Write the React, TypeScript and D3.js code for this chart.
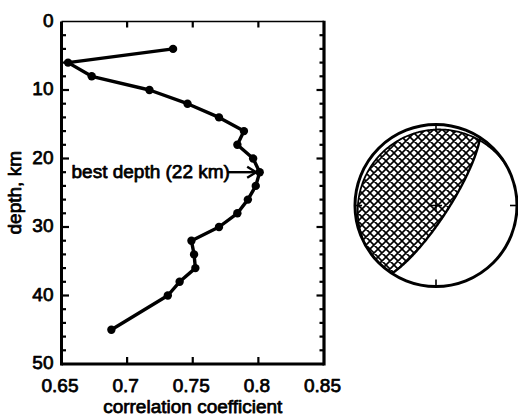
import React, { useEffect, useRef } from "react";
import * as d3 from "d3";

// correlation vs. trial source depth
const depths = [4, 6, 8, 10, 12, 14, 16, 18, 20, 22, 24, 26, 28, 30, 32, 34, 36, 38, 40, 45];
const correlations = [
  0.735, 0.655, 0.673, 0.717, 0.746, 0.77, 0.789, 0.784, 0.796, 0.801, 0.798, 0.792, 0.784, 0.77,
  0.749, 0.751, 0.752, 0.74, 0.731, 0.688,
];
const xTicks = [0.65, 0.7, 0.75, 0.8, 0.85];
const xTickLabels = ["0.65", "0.7", "0.75", "0.8", "0.85"];
const yTicks = [0, 10, 20, 30, 40, 50];
const bestDepth = 22;

// focal mechanism: strike, dip of the two nodal planes (degrees)
const planeA = { strike: 33, dip: 78 };
const planeB = { strike: 240, dip: 8 };

const W = 518;
const H = 415;
const font = "'Liberation Sans', Arial, Helvetica, sans-serif";

const App = () => {
  const ref = useRef<SVGSVGElement>(null);

  useEffect(() => {
    const svg = d3.select(ref.current);
    svg.selectAll("*").remove();

    const x = d3.scaleLinear().domain([0.65, 0.85]).range([61.5, 324]);
    const y = d3.scaleLinear().domain([0, 50]).range([21.5, 364]);
    const [x0, x1] = x.range();
    const [y0, y1] = y.range();

    const g = svg.append("g");

    // frame
    g.append("line").attr("x1", x0).attr("x2", x1).attr("y1", y0).attr("y2", y0)
      .attr("stroke", "#000").attr("stroke-width", 1.4);
    g.append("line").attr("x1", x0).attr("x2", x1).attr("y1", y1).attr("y2", y1)
      .attr("stroke", "#000").attr("stroke-width", 3);
    g.append("line").attr("x1", x0).attr("x2", x0).attr("y1", y0).attr("y2", y1 + 1.5)
      .attr("stroke", "#000").attr("stroke-width", 3);
    g.append("line").attr("x1", x1).attr("x2", x1).attr("y1", y0 - 0.7).attr("y2", y1 + 1.5)
      .attr("stroke", "#000").attr("stroke-width", 3.2);

    // x ticks (inside, top and bottom)
    xTicks.slice(1, -1).forEach((t) => {
      g.append("line").attr("x1", x(t)).attr("x2", x(t)).attr("y1", y1).attr("y2", y1 - 7)
        .attr("stroke", "#000").attr("stroke-width", 2.2);
      g.append("line").attr("x1", x(t)).attr("x2", x(t)).attr("y1", y0).attr("y2", y0 + 6)
        .attr("stroke", "#000").attr("stroke-width", 2.2);
    });

    // y ticks: major every 10, minor every 2
    d3.range(2, 50, 2).forEach((t) => {
      const len = t % 10 === 0 ? 7.5 : 4.5;
      g.append("line").attr("x1", x0).attr("x2", x0 + len).attr("y1", y(t)).attr("y2", y(t))
        .attr("stroke", "#000").attr("stroke-width", 2.2);
      g.append("line").attr("x1", x1).attr("x2", x1 - len).attr("y1", y(t)).attr("y2", y(t))
        .attr("stroke", "#000").attr("stroke-width", 2.2);
    });

    const txt = (sel: any) =>
      sel.attr("font-family", font).attr("font-size", 19).attr("fill", "#000")
        .attr("stroke", "#000").attr("stroke-width", 0.75).attr("stroke-linejoin", "round");

    xTicks.forEach((t, i) => {
      g.append("text").call(txt).attr("x", x(t) - 1.5).attr("y", 391.5)
        .attr("text-anchor", "middle").text(xTickLabels[i]);
    });
    yTicks.forEach((t) => {
      g.append("text").call(txt).attr("x", 53.5).attr("y", y(t) + 5)
        .attr("text-anchor", "end").text(String(t));
    });

    g.append("text").call(txt).attr("x", (x0 + x1) / 2).attr("y", 412.5)
      .attr("text-anchor", "middle").text("correlation coefficient");
    g.append("text").call(txt)
      .attr("transform", `translate(20.5, ${(y0 + y1) / 2}) rotate(-90)`)
      .attr("text-anchor", "middle").text("depth, km");

    // data
    const pts = depths.map((d, i) => [x(correlations[i]), y(d)] as [number, number]);
    g.append("path").attr("d", d3.line()(pts)).attr("fill", "none")
      .attr("stroke", "#000").attr("stroke-width", 3.4).attr("stroke-linejoin", "round");
    g.selectAll("circle.pt").data(pts).enter().append("circle").attr("class", "pt")
      .attr("cx", (p) => p[0]).attr("cy", (p) => p[1]).attr("r", 4.2).attr("fill", "#000");

    // annotation
    const ay = y(bestDepth);
    g.append("text").call(txt).attr("x", 71.5).attr("y", ay + 5.5).text("best depth (22 km)");
    const tip = x(0.801) - 3.5;
    g.append("line").attr("x1", 227).attr("x2", tip).attr("y1", ay).attr("y2", ay)
      .attr("stroke", "#000").attr("stroke-width", 2.4);
    g.append("path").attr("d", `M${tip - 9},${ay - 5.5}L${tip},${ay}L${tip - 9},${ay + 5.5}`)
      .attr("fill", "none").attr("stroke", "#000").attr("stroke-width", 2.4);

    // beachball (lower hemisphere, equal area)
    const cx = 436;
    const cy = 205.5;
    const R = 81;
    const rad = Math.PI / 180;
    const project = (v: number[]) => {
      let [n, e, dn] = v;
      if (dn < 0) { n = -n; e = -e; dn = -dn; }
      const plunge = Math.asin(Math.min(1, dn));
      const trend = Math.atan2(e, n);
      const r = R * Math.SQRT2 * Math.sin((Math.PI / 2 - plunge) / 2);
      return [cx + r * Math.sin(trend), cy - r * Math.cos(trend)] as [number, number];
    };
    const greatCircle = (p: { strike: number; dip: number }) => {
      const s = p.strike * rad;
      const dp = p.dip * rad;
      const su = [Math.cos(s), Math.sin(s), 0];
      const du = [Math.cos(dp) * Math.cos(s + Math.PI / 2), Math.cos(dp) * Math.sin(s + Math.PI / 2), Math.sin(dp)];
      return d3.range(0, 180.5, 1).map((t) => {
        const c = Math.cos(t * rad);
        const sn = Math.sin(t * rad);
        return project([c * su[0] + sn * du[0], c * su[1] + sn * du[1], c * su[2] + sn * du[2]]);
      });
    };
    const rim = (from: number, to: number) =>
      d3.range(from, to + 0.5, 1).map((az) =>
        [cx + R * Math.sin(az * rad), cy - R * Math.cos(az * rad)] as [number, number]);

    const P = 8;
    const defs = svg.append("defs");
    const pat = defs.append("pattern").attr("id", "xhatch").attr("patternUnits", "userSpaceOnUse")
      .attr("width", P).attr("height", P).attr("patternTransform", "translate(2,1)");
    pat.append("rect").attr("width", P).attr("height", P).attr("fill", "#fff");
    pat.append("path")
      .attr("d", `M-1,-1L${P + 1},${P + 1}M${P + 1},-1L-1,${P + 1}` +
        `M-2,${P - 2}L2,${P + 2}M${P - 2},-2L${P + 2},2M${P - 2},${P + 2}L${P + 2},${P - 2}M-2,2L2,-2`)
      .attr("stroke", "#000").attr("stroke-width", 1.6);

    const a = greatCircle(planeA);
    const b = greatCircle(planeB);
    // NW side of plane A, clipped to the inside of plane B
    const sideA = a.concat(rim(planeA.strike + 180, planeA.strike + 360));
    const sideB = b.concat(rim(planeB.strike - 180, planeB.strike));
    defs.append("clipPath").attr("id", "clipB").append("path").attr("d", d3.line()(sideB) + "Z");

    const bb = svg.append("g");
    bb.append("path").attr("d", d3.line()(sideA) + "Z").attr("fill", "url(#xhatch)")
      .attr("clip-path", "url(#clipB)");
    bb.append("path").attr("d", d3.line()(a)).attr("fill", "none").attr("stroke", "#000").attr("stroke-width", 2.4);
    bb.append("path").attr("d", d3.line()(b)).attr("fill", "none").attr("stroke", "#000").attr("stroke-width", 1.8);
    bb.append("circle").attr("cx", cx).attr("cy", cy).attr("r", R).attr("fill", "none")
      .attr("stroke", "#000").attr("stroke-width", 3);
    [0, 90, 180, 270].forEach((az) => {
      const sx = Math.sin(az * rad);
      const sy = -Math.cos(az * rad);
      bb.append("line").attr("x1", cx + sx * R).attr("y1", cy + sy * R)
        .attr("x2", cx + sx * (R - 7)).attr("y2", cy + sy * (R - 7))
        .attr("stroke", "#000").attr("stroke-width", 1.6);
    });
    bb.append("path").attr("d", `M${cx - 6},${cy}H${cx + 6}M${cx},${cy - 6}V${cy + 6}`)
      .attr("stroke", "#000").attr("stroke-width", 1.4);
  }, []);

  return (
    <svg
      ref={ref}
      width={W}
      height={H}
      style={{ position: "absolute", left: 0, top: 0, background: "#fff" }}
    />
  );
};

export default App;
